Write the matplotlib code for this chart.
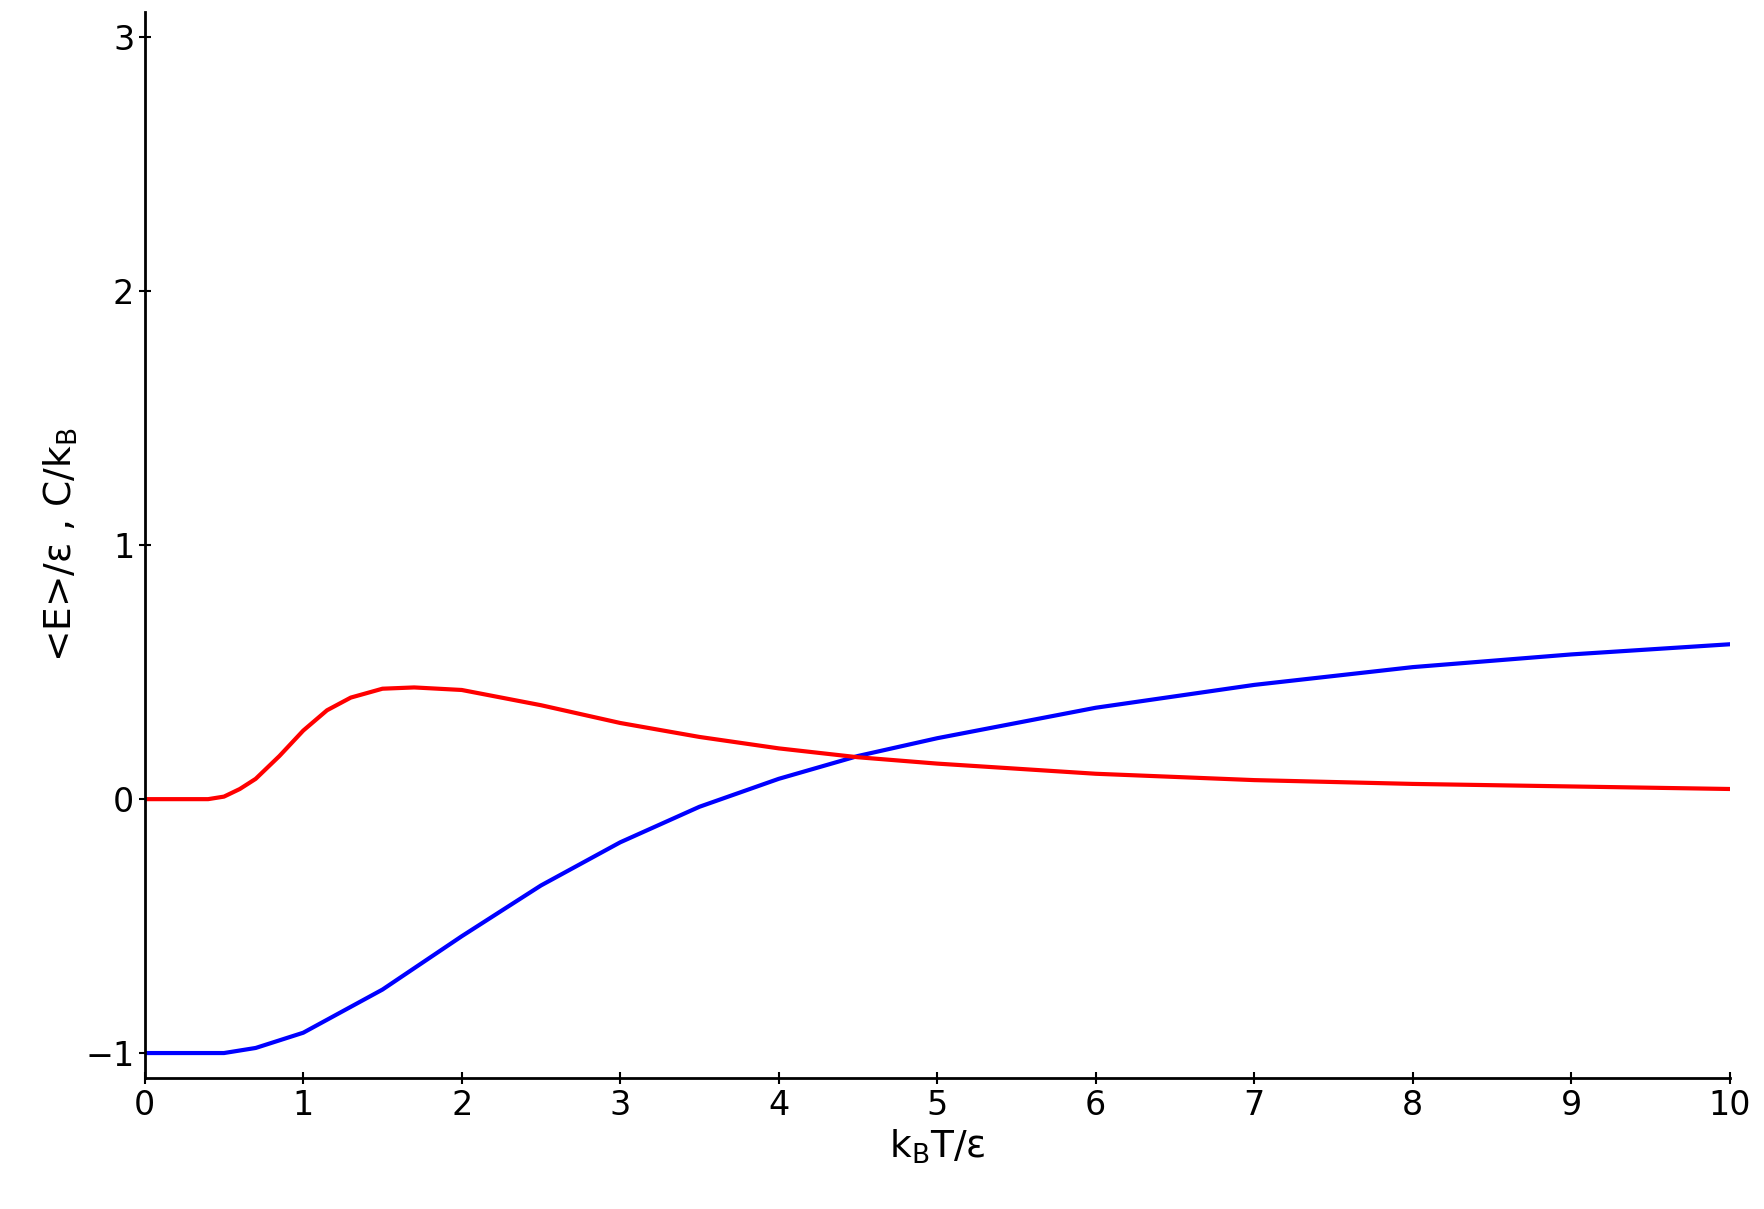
import matplotlib
matplotlib.use("Agg")
import matplotlib.pyplot as plt

e_x = [0, 0.5, 0.7, 1, 1.5, 2, 2.5, 3, 3.5, 4, 4.5, 5, 6, 7, 8, 9, 10]
e_y = [-1, -1, -0.98, -0.92, -0.75, -0.54, -0.34, -0.17, -0.03, 0.08, 0.17, 0.24, 0.36, 0.45, 0.52, 0.57, 0.61]
c_x = [0, 0.4, 0.5, 0.6, 0.7, 0.85, 1, 1.15, 1.3, 1.5, 1.7, 2, 2.5, 3, 3.5, 4, 4.5, 5, 6, 7, 8, 9, 10]
c_y = [0, 0, 0.01, 0.04, 0.08, 0.17, 0.27, 0.35, 0.40, 0.435, 0.44, 0.43, 0.37, 0.30, 0.245, 0.20, 0.165, 0.14, 0.10, 0.075, 0.06, 0.05, 0.04]

fig = plt.figure(figsize=(17.65, 12.09), dpi=100)
ax = fig.add_axes([0.082, 0.108, 0.898, 0.882])
ax.plot(e_x, e_y, color="blue", lw=3)
ax.plot(c_x, c_y, color="red", lw=3)
ax.set_xlim(0, 10)
ax.set_ylim(-1.1, 3.1)
ax.set_xticks(range(0, 11))
ax.set_yticks([-1, 0, 1, 2, 3])
for s in ["top", "right"]:
    ax.spines[s].set_visible(False)
for s in ["left", "bottom"]:
    ax.spines[s].set_linewidth(2)
ax.tick_params(labelsize=24, width=1.5, length=8, direction="inout")
ax.set_xlabel(r"k$_\mathregular{B}$T/ε", fontsize=27)
ax.set_ylabel(r"<E>/ε , C/k$_\mathregular{B}$", fontsize=27)
fig.savefig("out.png")
